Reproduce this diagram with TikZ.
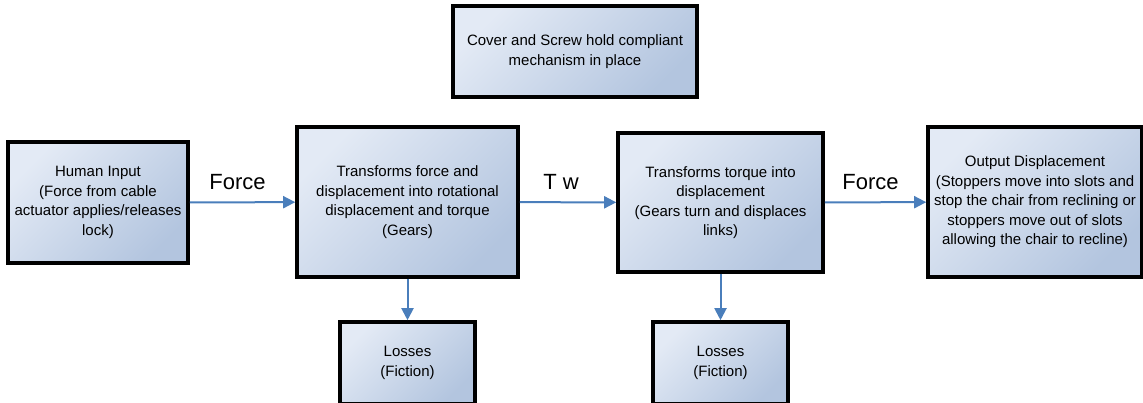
\documentclass[tikz,border=0pt]{standalone}
\usepackage{fontspec}
\setmainfont{Liberation Sans}
\usetikzlibrary{arrows.meta,positioning}
\definecolor{boxlight}{HTML}{E3EAF5}
\definecolor{boxdark}{HTML}{B3C5DF}
\definecolor{flowblue}{HTML}{4A7EBB}
\tikzset{
     block/.style={draw=black, line width=3.6pt, top color=boxlight, bottom color=boxdark,
        shading angle=45, align=center, inner sep=0pt, font=\fontsize{15}{19.5}\selectfont},
      flow/.style   = {flowblue, line width=2pt, -{Triangle[length=12pt,width=12pt]}},
      flowlabel/.style = {black, inner sep=0pt, font=\fontsize{22}{24}\selectfont},
    }

\begin{document}
\begin{tikzpicture}[x=1pt,y=-1pt]
        \useasboundingbox (0,0) rectangle (1143,402);
        \node [block, minimum width=244, minimum height=91] (cover) at (575,51.5)
            {Cover and Screw hold compliant\\mechanism in place};
        \node [block, minimum width=180, minimum height=121] (hin) at (98,202.5)
            {Human Input\\(Force from cable\\actuator applies/releases\\lock)};
        \node [block, minimum width=221, minimum height=150] (gear) at (407.5,202)
            {Transforms force and\\displacement into rotational\\displacement and torque\\(Gears)};
        \node [block, minimum width=205, minimum height=139] (link) at (720.5,202.5)
            {Transforms torque into\\displacement\\(Gears turn and displaces\\links)};
        \node [block, minimum width=214, minimum height=150] (out) at (1035,202)
            {Output Displacement\\(Stoppers move into slots and\\stop the chair from reclining or\\stoppers move out of slots\\allowing the chair to recline)};
        \node [block, minimum width=135, minimum height=82] (loss1) at (407.5,363)
            {Losses\\(Fiction)};
        \node [block, minimum width=135, minimum height=82] (loss2) at (720.5,363)
            {Losses\\(Fiction)};
        \draw [flow] (hin) -- node [flowlabel, above=12pt, xshift=-5pt] (f1) {Force} (gear);
        \draw [flow] (gear) -- node [flowlabel, above=12pt, xshift=-7pt] (tw) {T w} (link);
        \draw [flow] (link) -- node [flowlabel, above=12pt, xshift=-5pt] (f2) {Force} (out);
        \draw [flow] (gear) -- (loss1);
        \draw [flow] (link) -- (loss2);
    \end{tikzpicture}
\end{document}
